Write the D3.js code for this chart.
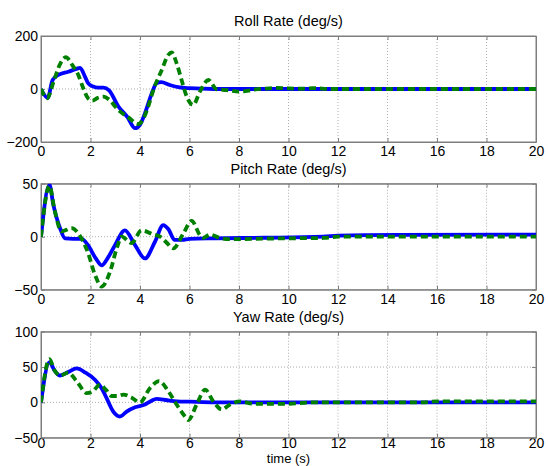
<!DOCTYPE html>
<html><head><meta charset="utf-8">
<script src="https://cdn.jsdelivr.net/npm/d3@7"></script>
<style>
html,body{margin:0;padding:0;background:#fff;}
svg{display:block;font-family:Arial,"Liberation Sans",sans-serif;}
</style></head>
<body><svg id="c" width="548" height="466"></svg>
<script>
// ---- data ----
const xTicks = [0,2,4,6,8,10,12,14,16,18,20];
const titles = ["Roll Rate (deg/s)","Pitch Rate (deg/s)","Yaw Rate (deg/s)"];
const yDomains = [[-200,200],[-50,50],[-50,100]];
const yTicks = [[-200,0,200],[-50,0,50],[-50,0,50,100]];
const xLabel = "time (s)";

const rollBlue = [[0,0],[0.27,-33],[0.47,34],[0.7,53],[1.1,65],[1.4,75],[1.58,80],[1.78,46],[1.91,21],[2.11,9],[2.3,5],[2.52,5],[2.75,-5],[3.12,-65],[3.5,-107],[3.8,-148],[4.0,-135],[4.2,-92],[4.45,-23],[4.67,22],[4.86,26],[5.2,15],[5.6,6],[6.0,3],[7.0,0],[20,0]];
const rollGreen = [[0,0],[0.25,-35],[0.5,25],[0.75,90],[1.0,120],[1.28,88],[1.5,55],[1.7,5],[1.9,-35],[2.07,-44],[2.3,-33],[2.52,-29],[2.75,-40],[3.12,-79],[3.53,-107],[3.93,-132],[4.15,-110],[4.33,-67],[4.54,-4],[4.88,72],[5.14,128],[5.28,138],[5.48,97],[5.68,34],[5.89,-29],[6.15,-60],[6.42,-10],[6.76,34],[7.1,-1],[7.5,-4],[8.04,-10],[8.58,-3],[9.0,1],[9.5,4],[10.0,2],[10.5,1],[11.0,3],[11.7,0],[20,0]];

const pitchBlue = [[0,0],[0.34,49],[0.5,30],[0.77,8],[0.97,-1.6],[1.3,-2],[1.64,-2],[1.9,-8],[2.2,-20],[2.45,-27],[2.7,-20],[2.99,-8],[3.39,6],[3.8,-8],[4.2,-20.5],[4.6,-5],[4.94,11],[5.15,7],[5.4,-3],[5.7,-3],[6.0,-2],[7.0,-1.5],[9.0,-1],[11.4,0],[12,1],[14.4,1.8],[20,2]];
const pitchGreen = [[0,0],[0.34,48],[0.55,25],[0.83,5],[1.24,8],[1.51,3],[1.91,-16],[2.18,-36],[2.45,-47],[2.79,-33],[3.06,-11],[3.26,0],[3.66,-6],[4.06,6],[4.54,2],[4.81,0],[5.05,-5],[5.35,-11],[5.75,3],[6.09,15],[6.42,1.5],[6.56,-1],[6.83,2],[7.2,-1],[7.6,-2.3],[10,-1.5],[11.4,-1.2],[12,0],[20,0]];

const yawBlue = [[0,0],[0.34,57],[0.55,45],[0.77,38],[1.1,43],[1.44,48],[1.8,42],[2.18,32],[2.45,20],[2.65,6],[2.92,-13],[3.19,-20],[3.46,-13],[3.8,-7],[4.2,-3],[4.45,2],[4.67,5],[5.1,3],[5.5,1.5],[6,1],[7,0],[20,0]];
const yawGreen = [[0,0],[0.34,61],[0.55,45],[0.77,38],[1.1,42],[1.44,30],[1.85,13],[2.1,16],[2.38,25],[2.62,18],[2.86,9],[3.1,9],[3.33,11],[3.65,7],[4.0,0],[4.4,20],[4.77,30],[5.14,16],[5.48,-3],[5.82,-20],[5.95,-25],[6.29,-3],[6.63,18],[6.96,1.4],[7.3,-10],[7.64,-3],[8.04,1.4],[8.6,-2],[9.9,-2],[11,0],[15.4,0],[16,1.4],[20,1.4]];

const blueSeries = [rollBlue, pitchBlue, yawBlue];
const greenSeries = [rollGreen, pitchGreen, yawGreen];

// ---- layout ----
const L = 41, R = 536, H = 106;
const tops = [36, 183.7, 331.7];
const svg = d3.select("#c");
const x = d3.scaleLinear().domain([0,20]).range([L,R]);
const axisColor = "#7f7f7f";

tops.forEach((top, i) => {
  const y = d3.scaleLinear().domain(yDomains[i]).range([top+H, top]);
  const g = svg.append("g");
  const clipId = "clip"+i;
  svg.append("clipPath").attr("id", clipId).append("rect")
    .attr("x", L).attr("y", top).attr("width", R-L).attr("height", H);

  // grid
  g.selectAll(".gx").data(xTicks.filter(t => t>0 && t<20)).enter().append("line")
    .attr("x1", d=>x(d)).attr("x2", d=>x(d)).attr("y1", top).attr("y2", top+H)
    .attr("stroke", "#9a9a9a").attr("stroke-width", 0.8).attr("stroke-dasharray", "1,2");
  g.selectAll(".gy").data(yTicks[i].filter(t => t>yDomains[i][0] && t<yDomains[i][1])).enter().append("line")
    .attr("x1", L).attr("x2", R).attr("y1", d=>y(d)).attr("y2", d=>y(d))
    .attr("stroke", "#9a9a9a").attr("stroke-width", 0.8).attr("stroke-dasharray", "1,2");

  // axes with inward ticks
  const ax = g.append("g").attr("transform", `translate(0,${top+H})`)
    .call(d3.axisBottom(x).tickValues(xTicks).tickSizeInner(-4).tickSizeOuter(0).tickFormat(d3.format("d")));
  const axTop = g.append("g").attr("transform", `translate(0,${top})`)
    .call(d3.axisTop(x).tickValues(xTicks).tickSizeInner(-4).tickSizeOuter(0).tickFormat(""));
  const ay = g.append("g").attr("transform", `translate(${L},0)`)
    .call(d3.axisLeft(y).tickValues(yTicks[i]).tickSizeInner(-4).tickSizeOuter(0).tickFormat(d3.format("d")));
  const ayR = g.append("g").attr("transform", `translate(${R},0)`)
    .call(d3.axisRight(y).tickValues(yTicks[i]).tickSizeInner(-4).tickSizeOuter(0).tickFormat(""));
  [ax, axTop, ay, ayR].forEach(a => {
    a.select(".domain").attr("stroke", axisColor);
    a.selectAll(".tick line").attr("stroke", axisColor);
    a.selectAll("text").attr("fill", "#000").attr("font-size", 14).attr("font-family", "Arial, 'Liberation Sans', sans-serif");
  });
  ax.selectAll("text").attr("dy", "0.71em").attr("y", i === 2 ? 0.5 : 4);
  ay.selectAll("text").attr("x", -3);

  // box
  g.append("rect").attr("x", L).attr("y", top).attr("width", R-L).attr("height", H)
    .attr("fill", "none").attr("stroke", axisColor).attr("stroke-width", 1);

  const line = d3.line().x(d=>x(d[0])).y(d=>y(d[1])).curve(d3.curveMonotoneX);
  const lines = g.append("g").attr("clip-path", `url(#${clipId})`);
  lines.append("path").attr("d", line(blueSeries[i])).attr("fill","none")
    .attr("stroke","#0000ff").attr("stroke-width",3.8).attr("stroke-linejoin","round");
  lines.append("path").attr("d", line(greenSeries[i])).attr("fill","none")
    .attr("stroke","#008000").attr("stroke-width",3.8).attr("stroke-dasharray","7,4");

  // title
  svg.append("text").attr("x", (L+R)/2).attr("y", top-10).attr("text-anchor","middle")
    .attr("font-size", 14.5).attr("fill","#000").text(titles[i]);
});

svg.append("text").attr("x", (L+R)/2).attr("y", 463).attr("text-anchor","middle")
  .attr("font-size", 13).attr("fill","#000").text(xLabel);
</script></body></html>
